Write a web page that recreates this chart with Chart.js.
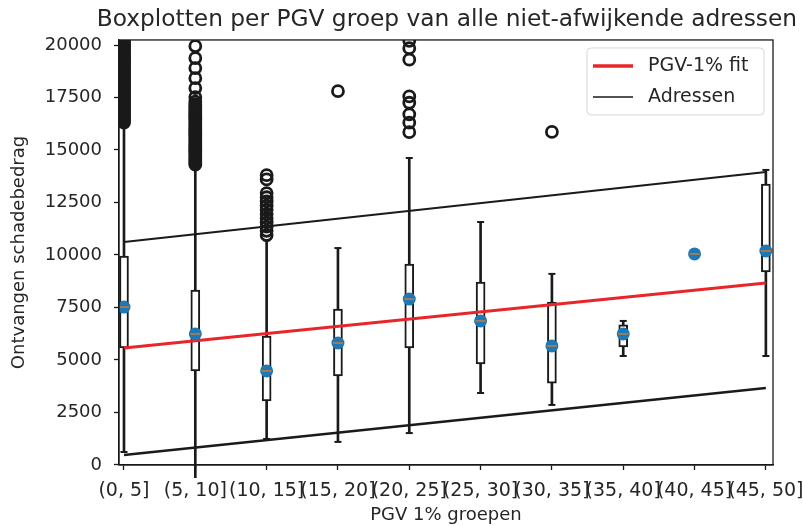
<!DOCTYPE html>
<html>
<head>
<meta charset="utf-8">
<script src="https://cdn.jsdelivr.net/npm/chart.js@4.4.0/dist/chart.umd.min.js"></script>
<style>
    body { margin: 0; background: #fff; }
</style>
</head>
<body>
<canvas id="box_chart" width="803" height="526"></canvas>
<script>
// Init chart data

const groups = ['(0, 5]', '(5, 10]', '(10, 15]', '(15, 20]', '(20, 25]', '(25, 30]', '(30, 35]', '(35, 40]', '(40, 45]', '(45, 50]'];
const yTicks = [0, 2500, 5000, 7500, 10000, 12500, 15000, 17500, 20000];

const whiskerLow = [620, -600, 1240, 1100, 1520, 3430, 2860, 5190, 10050, 5190];
const q1 = [5570, 4480, 3050, 4240, 5570, 4810, 3900, 5620, 10050, 9190];
const medians = [7520, 6240, 4480, 5810, 7900, 6860, 5670, 6240, 10050, 10190];
const means = [7520, 6240, 4480, 5810, 7900, 6860, 5670, 6240, 10050, 10190];
const q3 = [9950, 8330, 6140, 7430, 9570, 8710, 7760, 6670, 10050, 13380];
const whiskerHigh = [16190, 14140, 10700, 10330, 14620, 11570, 9100, 6860, 10050, 14050];

const fliers = [
    [16300, 16390, 16480, 16570, 16650, 16740, 16830, 16920, 17010, 17100, 17180, 17270, 17360, 17450,
     17540, 17630, 17720, 17800, 17890, 17980, 18070, 18160, 18250, 18330, 18420, 18510, 18600, 18690,
     18780, 18860, 18950, 19040, 19130, 19220, 19310, 19390, 19480, 19570, 19660, 19750, 19840, 19930,
     20020, 20110, 20200],
    [14300, 14390, 14480, 14570, 14660, 14750, 14840, 14930, 15020, 15110, 15200, 15290, 15380, 15470,
     15560, 15650, 15740, 15830, 15920, 16010, 16100, 16190, 16280, 16370, 16460, 16550, 16640, 16730,
     16820, 16910, 17000, 17090, 17180, 17300, 17520, 17950, 18420, 18900, 19380, 19950],
    [10950, 11150, 11350, 11550, 11750, 11950, 12150, 12350, 12550, 12750, 12950, 13600, 13800],
    [17800],
    [15850, 16300, 16700, 17250, 17550, 19300, 19850, 20200],
    [],
    [15860],
    [],
    [],
    []
];

// PGV-1% fit and address lines, values at first and last group
const lineX = [0, 9];
const fitLine = [5570, 8670];
const addrUpper = [10620, 13950];
const addrLower = [480, 3670];

const textColor = '#262626';
const edgeColor = '#1a1a1a';

function pointsOf(values) {
    return values.map((v, i) => ({ x: i, y: v }));
}

function lineOf(values) {
    return values.map((v, i) => ({ x: lineX[i], y: v }));
}

var flierPoints = [];
fliers.forEach((list, i) => {
    list.forEach(v => flierPoints.push({ x: i, y: v }));
});

// frame round the plot and a legend box in the upper right corner
const frameAndLegend = {
    id: 'frameAndLegend',
    afterDraw(chart) {
        const ctx = chart.ctx;
        const area = chart.chartArea;
        ctx.save();
        ctx.strokeStyle = edgeColor;
        ctx.lineWidth = 1.3;
        ctx.strokeRect(area.left, area.top, area.right - area.left, area.bottom - area.top);

        const items = chart.data.datasets.filter(d => d.inLegend);
        const w = 177, h = 67;
        const x0 = area.right - 9 - w;
        const y0 = area.top + 8;
        ctx.beginPath();
        ctx.roundRect(x0, y0, w, h, 4);
        ctx.fillStyle = 'rgba(255, 255, 255, 0.8)';
        ctx.fill();
        ctx.strokeStyle = '#d6d6d6';
        ctx.lineWidth = 1;
        ctx.stroke();

        ctx.font = '19px "DejaVu Sans"';
        ctx.textBaseline = 'middle';
        ctx.fillStyle = textColor;
        items.forEach((d, i) => {
            const y = y0 + 18 + i * 31;
            ctx.beginPath();
            ctx.strokeStyle = d.borderColor;
            ctx.lineWidth = d.legendWidth;
            ctx.moveTo(x0 + 6, y);
            ctx.lineTo(x0 + 46, y);
            ctx.stroke();
            ctx.fillText(d.label, x0 + 61, y);
        });
        ctx.restore();
    }
};

Chart.defaults.color = textColor;
Chart.defaults.font.family = '"DejaVu Sans", sans-serif';

const box_chart_ctx = document.getElementById('box_chart').getContext('2d');
const box_chart = new Chart(box_chart_ctx, {
    type: 'bar',
    data: {
        datasets: [
            {
                type: 'scatter',
                label: 'mediaan',
                data: pointsOf(medians),
                pointStyle: 'line',
                pointRadius: 5,
                pointBorderColor: 'rgba(255, 127, 14, 0.75)',
                pointBorderWidth: 1.5,
                order: -1
            },
            {
                type: 'scatter',
                label: 'gemiddelde',
                data: pointsOf(means),
                pointStyle: 'circle',
                pointRadius: 6.5,
                pointBackgroundColor: '#1f77b4',
                pointBorderWidth: 0,
                order: 0
            },
            {
                type: 'line',
                label: 'PGV-1% fit',
                inLegend: true,
                legendWidth: 3.5,
                data: lineOf(fitLine),
                borderColor: '#e8262a',
                borderWidth: 3,
                pointRadius: 0,
                order: 1
            },
            {
                type: 'line',
                label: 'Adressen',
                inLegend: true,
                legendWidth: 1.4,
                data: lineOf(addrUpper),
                borderColor: edgeColor,
                borderWidth: 2,
                pointRadius: 0,
                order: 2
            },
            {
                type: 'line',
                label: 'Adressen onder',
                data: lineOf(addrLower),
                borderColor: edgeColor,
                borderWidth: 2.5,
                pointRadius: 0,
                order: 2
            },
            {
                type: 'scatter',
                label: 'caps',
                data: pointsOf(whiskerLow).concat(pointsOf(whiskerHigh)),
                pointStyle: 'line',
                pointRadius: 3.5,
                pointBorderColor: edgeColor,
                pointBorderWidth: 2,
                order: 4
            },
            {
                type: 'scatter',
                label: 'uitschieters',
                data: flierPoints,
                pointStyle: 'circle',
                pointRadius: 5.5,
                pointBackgroundColor: 'rgba(0, 0, 0, 0)',
                pointBorderColor: edgeColor,
                pointBorderWidth: 2.8,
                order: 5
            },
            {
                label: 'box',
                data: q1.map((v, i) => ({ x: i, y: [v, q3[i]] })),
                backgroundColor: '#ffffff',
                borderColor: edgeColor,
                borderWidth: 2,
                borderSkipped: false,
                barThickness: 9,
                grouped: false,
                order: 6
            },
            {
                label: 'whisker',
                data: whiskerLow.map((v, i) => ({ x: i, y: [v, whiskerHigh[i]] })),
                backgroundColor: edgeColor,
                borderWidth: 0,
                barThickness: 2,
                grouped: false,
                clip: false,
                order: 7
            }
        ]
    },
    options: {
        responsive: false,
        animation: false,
        devicePixelRatio: 1,
        layout: {
            padding: { left: 0, right: 6, top: 0, bottom: 0 }
        },
        plugins: {
            legend: { display: false },
            tooltip: { enabled: false },
            title: {
                display: true,
                text: 'Boxplotten per PGV groep van alle niet-afwijkende adressen',
                align: 'end',
                color: textColor,
                font: { size: 23.3, weight: 'normal' },
                padding: { top: 6, bottom: 6 }
            }
        },
        scales: {
            x: {
                type: 'linear',
                min: -0.07,
                max: 9.1,
                offset: false,
                title: {
                    text: 'PGV 1% groepen',
                    display: true,
                    font: { size: 18 },
                    padding: { top: 0, bottom: 0 }
                },
                afterBuildTicks: (scale) => {
                    scale.ticks = groups.map((g, i) => ({ value: i }));
                },
                ticks: {
                    autoSkip: false,
                    maxRotation: 0,
                    minRotation: 0,
                    padding: 10,
                    font: { size: 19 },
                    callback: (v) => groups[v]
                },
                grid: {
                    offset: false,
                    drawOnChartArea: false,
                    tickLength: 5,
                    tickColor: edgeColor,
                    tickWidth: 1.3
                },
                border: { color: edgeColor, width: 1.3 },
                afterFit: (scale) => {
                    scale.height = 61;
                    scale.paddingLeft = 0;
                    scale.paddingRight = 30;
                }
            },
            y: {
                min: 0,
                max: 20240,
                title: {
                    text: 'Ontvangen schadebedrag',
                    display: true,
                    font: { size: 18 },
                    padding: { top: 9, bottom: 0 }
                },
                afterBuildTicks: (scale) => {
                    scale.ticks = yTicks.map(v => ({ value: v }));
                },
                ticks: {
                    padding: 12,
                    font: { size: 18 },
                    callback: (v) => String(v)
                },
                grid: {
                    drawOnChartArea: false,
                    tickLength: 5,
                    tickColor: edgeColor,
                    tickWidth: 1.3
                },
                border: { color: edgeColor, width: 1.3 },
                afterFit: (scale) => {
                    scale.width = 119;
                }
            }
        }
    },
    plugins: [frameAndLegend]
});
</script>
</body>
</html>
